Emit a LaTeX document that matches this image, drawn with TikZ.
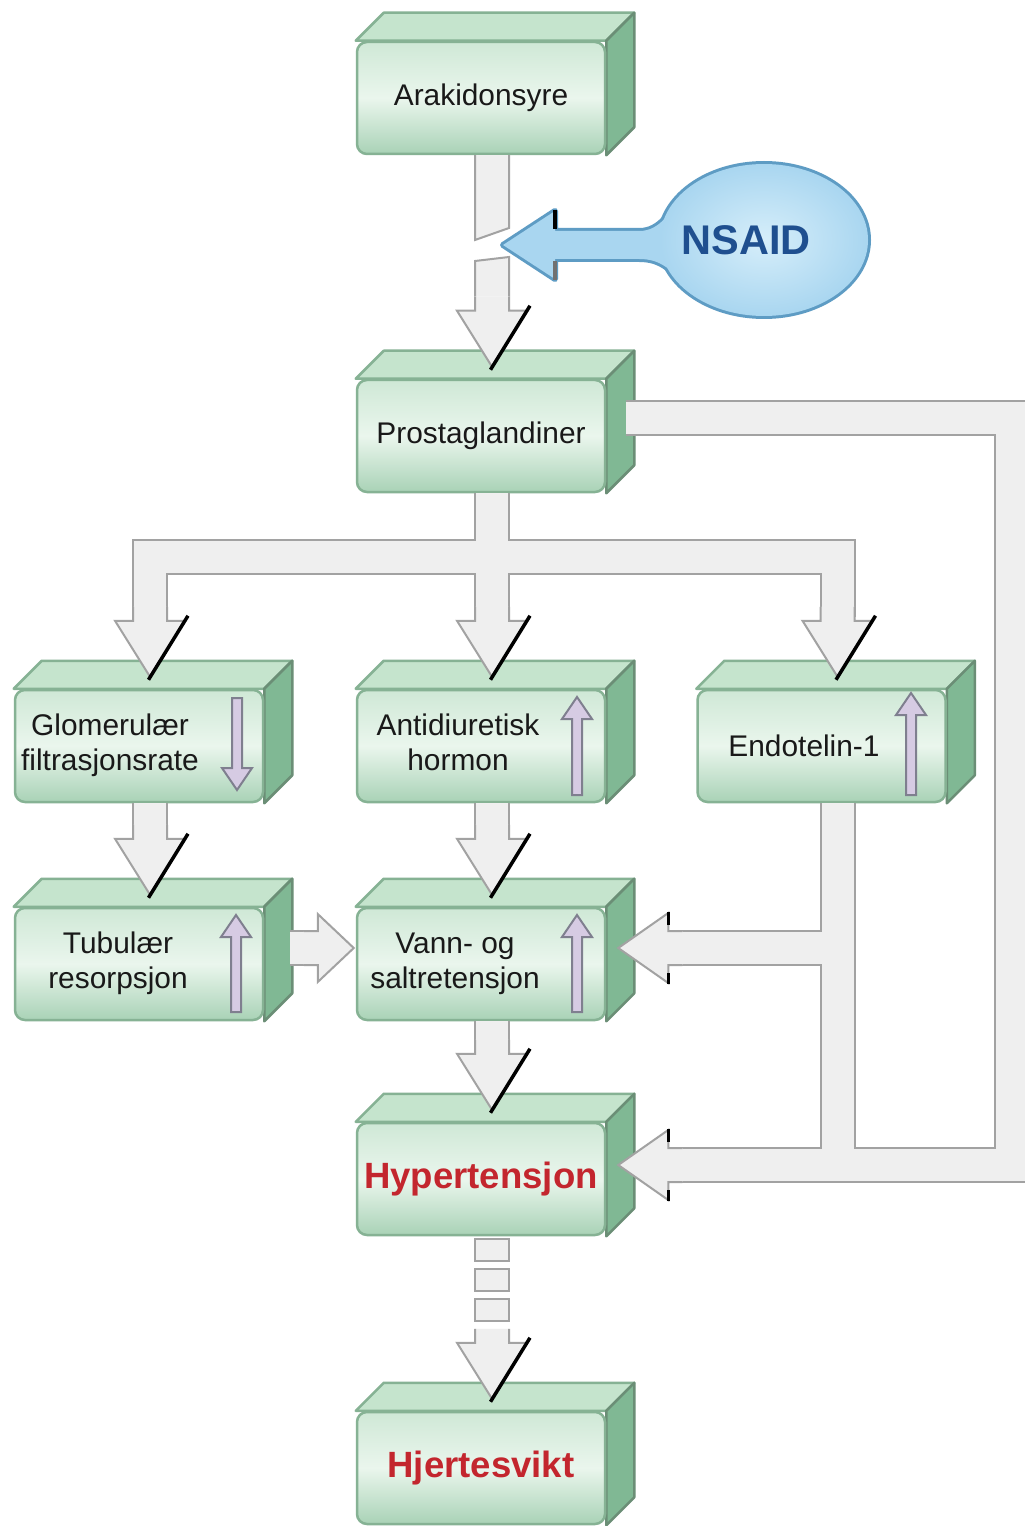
\documentclass[tikz,border=0pt]{standalone}
\usepackage{fontspec}
\setmainfont{Liberation Sans}
\usetikzlibrary{calc,shapes.geometric,backgrounds}
\definecolor{gtop}{HTML}{CFE8D6}
\definecolor{gmid}{HTML}{EAF6ED}
\definecolor{gbot}{HTML}{A9D2B6}
\definecolor{gedge}{HTML}{86B294}
\definecolor{gface}{HTML}{C5E4CD}
\definecolor{gside}{HTML}{80B894}
\definecolor{pedge}{HTML}{A2A2A2}
\definecolor{pfill}{HTML}{EFEFEF}
\definecolor{lav}{HTML}{D6CBE3}
\definecolor{lavedge}{HTML}{7F7F8F}
\definecolor{nfill}{HTML}{A9D6F0}
\definecolor{nlight}{HTML}{D6EEFA}
\definecolor{nedge}{HTML}{5E9CC4}
\definecolor{ntext}{HTML}{1F4F8F}
\definecolor{hred}{HTML}{C3262E}
\newcommand\lblfont{\fontsize{8.5pt}{10pt}\selectfont}
\newcommand\hotfont{\fontsize{10.4pt}{12pt}\selectfont\bfseries}
\newcommand\nsfont{\fontsize{11.8pt}{14pt}\selectfont\bfseries}
\newcommand\padr[1]{\rule{#1}{0pt}}
\newcommand\boxfaces[1]{%
  \begin{scope}[on background layer]
    \filldraw[topface] (#1.north west) -- ([shift={(28,-28)}]#1.north west) -- ([shift={(28,-28)}]#1.north east) -- (#1.north east) -- cycle;
    \filldraw[sideface] (#1.north east) -- ([shift={(28,-28)}]#1.north east) -- ([shift={(28,-28)}]#1.south east) -- (#1.south east) -- cycle;
  \end{scope}}
\newcommand\dhead[1]{%
  \filldraw[blk] let \p1=(#1) in (\x1-1.7mm,\y1+7mm) -- (\x1-1.7mm,\y1+5.6mm) -- (\x1-3.5mm,\y1+5.6mm) -- (\x1,\y1) -- (\x1+3.5mm,\y1+5.6mm) -- (\x1+1.7mm,\y1+5.6mm) -- (\x1+1.7mm,\y1+7mm);
  \draw[shadowline] let \p1=(#1) in (\x1+3.8mm,\y1+6.1mm) -- (\x1-0.15mm,\y1-0.3mm);}
\newcommand\lhead[1]{%
  \filldraw[blk] let \p1=(#1) in (\x1+6.4mm,\y1+1.7mm) -- (\x1+5mm,\y1+1.7mm) -- (\x1+5mm,\y1+3.5mm) -- (\x1,\y1) -- (\x1+5mm,\y1-3.5mm) -- (\x1+5mm,\y1-1.7mm) -- (\x1+6.4mm,\y1-1.7mm);
  \draw[shadowline] let \p1=(#1) in (\x1+5mm,\y1+3.6mm) -- (\x1+5mm,\y1+2.3mm) (\x1+5mm,\y1-3.6mm) -- (\x1+5mm,\y1-2.5mm);}
\newcommand\rhead[1]{%
  \filldraw[blk] let \p1=(#1) in (\x1-5mm,\y1+1.7mm) -- (\x1-3.6mm,\y1+1.7mm) -- (\x1-3.6mm,\y1+3.4mm) -- (\x1,\y1) -- (\x1-3.6mm,\y1-3.4mm) -- (\x1-3.6mm,\y1-1.7mm) -- (\x1-5mm,\y1-1.7mm);}
\newcommand\indup[3]{\filldraw[ind] (#1-5,#3) -- (#1-5,#2+22) -- (#1-15,#2+22) -- (#1,#2) -- (#1+15,#2+22) -- (#1+5,#2+22) -- (#1+5,#3) -- cycle;}
\newcommand\inddown[3]{\filldraw[ind] (#1-5,#2) -- (#1-5,#3-22) -- (#1-15,#3-22) -- (#1,#3) -- (#1+15,#3-22) -- (#1+5,#3-22) -- (#1+5,#2) -- cycle;}
\begin{document}
\begin{tikzpicture}[x=0.1mm,y=-0.1mm,
  gbox/.style={shade, top color=gtop, bottom color=gbot, middle color=gmid, draw=gedge, line width=0.25mm, rounded corners=1mm, minimum width=24.8mm, minimum height=11.2mm, inner sep=0pt, font=\lblfont, text=black!90},
  hotbox/.style={gbox, font=\hotfont, text=hred},
  topface/.style={fill=gface, draw=gedge, line width=0.25mm, line join=round},
  sideface/.style={fill=gside, draw=gedge!80!black, line width=0.25mm, line join=round},
  pipeo/.style={draw=pedge, line width=3.6mm},
  pipei/.style={draw=pfill, line width=3.2mm},
  blk/.style={fill=pfill, draw=pedge, line width=0.2mm, line join=miter},
  shadowline/.style={draw=black, line width=0.35mm},
  ind/.style={fill=lav, draw=lavedge, line width=0.2mm}]
\useasboundingbox (0,0) rectangle (1025,1526);
\begin{scope}[on background layer]
  \fill[white] (0,0) rectangle (1025,1526);
\end{scope}
% boxes
\node[gbox] (ara) at (481,98) {Arakidonsyre};
\node[gbox] (prost) at (481,436) {Prostaglandiner};
\node[gbox] (glom) at (139,746) {\begin{tabular}{@{}c@{}}Glomerulær\\filtrasjonsrate\end{tabular}\padr{5.8mm}};
\node[gbox] (adh) at (481,746) {\begin{tabular}{@{}c@{}}Antidiuretisk\\hormon\end{tabular}\padr{4.6mm}};
\node[gbox] (endo) at (821.5,746) {Endotelin-1\padr{3.5mm}};
\node[gbox] (tub) at (139,964) {\begin{tabular}{@{}c@{}}Tubulær\\resorpsjon\end{tabular}\padr{4.2mm}};
\node[gbox] (vann) at (481,964) {\begin{tabular}{@{}c@{}}Vann- og\\saltretensjon\end{tabular}\padr{5.2mm}};
\node[hotbox] (hyp) at (481,1179) {Hypertensjon};
\node[hotbox] (hjerte) at (481,1468) {Hjertesvikt};
\foreach \b in {ara,prost,glom,adh,endo,tub,vann,hyp,hjerte}{\boxfaces{\b}}
% indicator arrows
\inddown{237}{698}{790}
\indup{577}{697}{795}
\indup{911}{693}{795}
\indup{236}{915}{1012}
\indup{577}{915}{1012}
% NSAID balloon
\node[ellipse, minimum width=20.8mm, minimum height=15.2mm, inner sep=0pt] (nsaid) at (764,240) {};
\coordinate (gap) at (495,245);
\path[draw=nedge, line width=0.6mm, line join=round] let \p1=(gap), \p2=(nsaid.center), \p3=(nsaid.west) in
  (\x1+0.8mm,\y1) -- (\x1+6mm,\y1+3.4mm) -- (\x1+6mm,\y1+1.4mm) -- (\x3-2mm,\y1+1.4mm)
  .. controls (\x3+0.2mm,\y1+1.4mm) and (\x3+1mm,\y2+3mm) .. (\x3+2.5mm,\y2+4.2mm)
  -- (\x3+2.5mm,\y2-4.2mm)
  .. controls (\x3+1mm,\y2-3mm) and (\x3+0.2mm,\y1-1.4mm) .. (\x3-2mm,\y1-1.4mm)
  -- (\x1+6mm,\y1-1.4mm) -- (\x1+6mm,\y1-3.4mm) -- cycle;
\draw[nedge, line width=0.6mm] (nsaid.center) ellipse [x radius=10.4mm, y radius=7.6mm];
\fill[nfill] let \p1=(gap), \p2=(nsaid.center), \p3=(nsaid.west) in
  (\x1+0.8mm,\y1) -- (\x1+6mm,\y1+3.4mm) -- (\x1+6mm,\y1+1.4mm) -- (\x3-2mm,\y1+1.4mm)
  .. controls (\x3+0.2mm,\y1+1.4mm) and (\x3+1mm,\y2+3mm) .. (\x3+2.5mm,\y2+4.2mm)
  -- (\x3+2.5mm,\y2-4.2mm)
  .. controls (\x3+1mm,\y2-3mm) and (\x3+0.2mm,\y1-1.4mm) .. (\x3-2mm,\y1-1.4mm)
  -- (\x1+6mm,\y1-1.4mm) -- (\x1+6mm,\y1-3.4mm) -- cycle;
\shade[inner color=nlight, outer color=nfill] (nsaid.center) ellipse [x radius=10.4mm, y radius=7.6mm];
\draw[shadowline] let \p1=(gap) in (\x1+6mm,\y1+3.5mm) -- (\x1+6mm,\y1+1.6mm);
\draw[pedge!70!black, line width=0.35mm] let \p1=(gap) in (\x1+6mm,\y1-3.5mm) -- (\x1+6mm,\y1-1.6mm);
\node[font=\nsfont, text=ntext] (nsaidlbl) at ([shift={(-18,0)}]nsaid.center) {NSAID};
% connector coordinates
\coordinate (pS) at ([shift={(11,0)}]prost.south);
\coordinate (adhIn) at ([shift={(11,-12)}]adh.north);
\coordinate (glomIn) at ([shift={(11,-12)}]glom.north);
\coordinate (endoIn) at ([shift={(16,-12)}]endo.north);
\coordinate (bar) at (pS |- 0,557);
\coordinate (tubIn) at ([shift={(11,-12)}]tub.north);
\coordinate (vannIn) at ([shift={(11,-12)}]vann.north);
\coordinate (hypIn) at ([shift={(11,-12)}]hyp.north);
\coordinate (hjIn) at ([shift={(11,-12)}]hjerte.north);
\coordinate (prostIn) at ([shift={(11,-12)}]prost.north);
\coordinate (endoS) at ([shift={(16,0)}]endo.south);
\coordinate (vannR) at ([shift={(12,-16)}]vann.east);
\coordinate (vannEnd) at ([shift={(72,-16)}]vann.east);
\coordinate (hypR) at ([shift={(12,-14)}]hyp.east);
\coordinate (hypEnd) at ([shift={(72,-14)}]hyp.east);
\coordinate (B0) at ([shift={(20,-18)}]prost.east);
\coordinate (rb) at (1012,0 |- hypEnd);
\coordinate (tubE) at ([shift={(26,-16)}]tub.east);
\coordinate (vannL) at ([shift={(-2,-16)}]vann.west);
% pipes
\foreach \st in {pipeo,pipei}{
  \draw[\st] (pS) -- ([shift={(0,-60)}]adhIn);
  \draw[\st] ([shift={(0,-60)}]glomIn) |- (bar) -| ([shift={(0,-60)}]endoIn);
  \draw[\st] ([shift={(11,0)}]glom.south) -- ([shift={(0,-60)}]tubIn);
  \draw[\st] ([shift={(11,0)}]adh.south) -- ([shift={(0,-60)}]vannIn);
  \draw[\st] ([shift={(11,0)}]vann.south) -- ([shift={(0,-60)}]hypIn);
  \draw[\st] (B0) -| (rb) -- (hypEnd);
  \draw[\st] (endoS) -- (endoS |- rb);
  \draw[\st] (endoS |- vannEnd) -- (vannEnd);
  \draw[\st] (tubE) -- ([shift={(-40,0)}]vannL);
}
% broken arrow Arakidonsyre -> Prostaglandiner
\filldraw[blk] let \p1=([shift={(11,0)}]ara.south), \p2=(gap) in
  (\x1-1.7mm,\y1) -- (\x1-1.7mm,\y2+0.5mm) -- (\x1+1.7mm,\y2+1.7mm) -- (\x1+1.7mm,\y1);
\filldraw[blk] let \p1=(prostIn), \p2=(gap) in
  (\x1-1.7mm,\y1+7mm) -- (\x1-1.7mm,\y2-1.6mm) -- (\x1+1.7mm,\y2-1.2mm) -- (\x1+1.7mm,\y1+7mm);
% dashed arrow Hypertensjon -> Hjertesvikt
\filldraw[blk] let \p1=([shift={(11,0)}]hyp.south) in
  (\x1-1.7mm,\y1-0.3mm) rectangle (\x1+1.7mm,\y1-2.5mm)
  (\x1-1.7mm,\y1-3.3mm) rectangle (\x1+1.7mm,\y1-5.5mm)
  (\x1-1.7mm,\y1-6.3mm) rectangle (\x1+1.7mm,\y1-8.5mm);
% heads
\dhead{prostIn}
\dhead{adhIn}
\dhead{glomIn}
\dhead{endoIn}
\dhead{tubIn}
\dhead{vannIn}
\dhead{hypIn}
\dhead{hjIn}
\lhead{vannR}
\lhead{hypR}
\rhead{vannL}
\end{tikzpicture}
\end{document}
